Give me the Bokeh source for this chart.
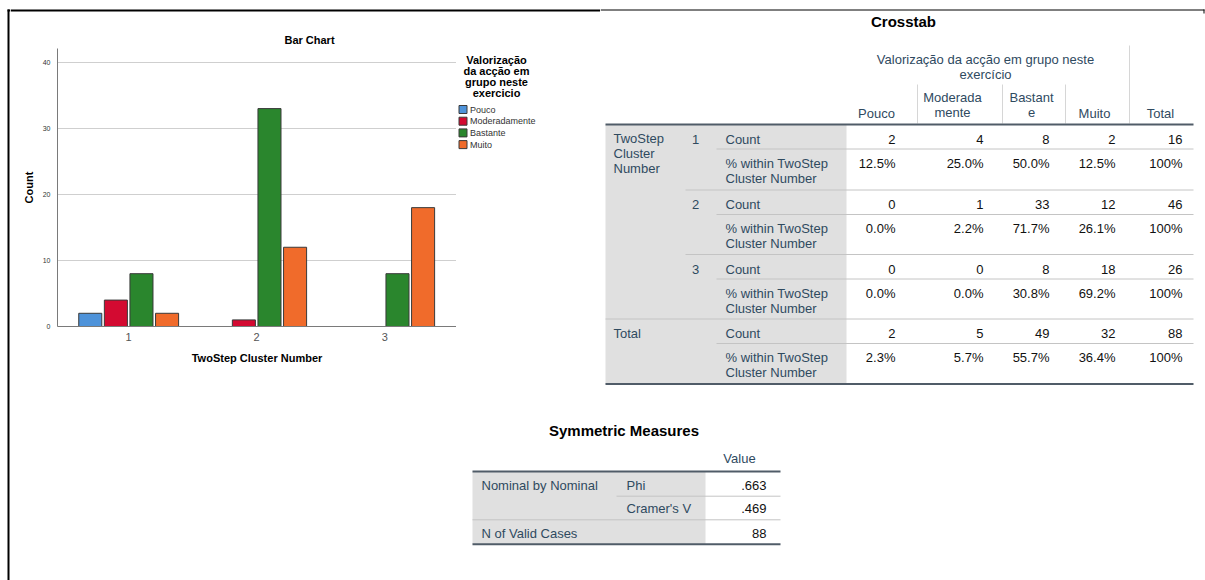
from bokeh.plotting import figure
from bokeh.layouts import row, column
from bokeh.models import ColumnDataSource, Range1d, FixedTicker
from bokeh.transform import dodge
from bokeh.core.properties import value
from bokeh.embed import file_html
from bokeh.resources import INLINE

# ---------------- data ----------------
clusters = [1, 2, 3]
categories = ["Pouco", "Moderadamente", "Bastante", "Muito"]
pouco = [2, 0, 0]
moderadamente = [4, 1, 0]
bastante = [8, 33, 8]
muito = [2, 12, 18]
y_ticks = [0, 10, 20, 30, 40]
legend_title = ["Valorização", "da acção em", "grupo neste", "exercicio"]

row_totals = [16, 46, 26]
col_totals = [2, 5, 49, 32]
grand_total = 88
pct_within = [[12.5, 25.0, 50.0, 12.5],
              [0.0, 2.2, 71.7, 26.1],
              [0.0, 0.0, 30.8, 69.2]]
pct_total = [2.3, 5.7, 55.7, 36.4]
col_headers = [["Pouco"], ["Moderada", "mente"], ["Bastant", "e"], ["Muito"], ["Total"]]

sym_labels = ["Phi", "Cramer's V"]
sym_values = [".663", ".469"]
n_valid = 88

FONT = "Liberation Sans"
SLATE = "#2F4A5F"
VAL = "#111111"
GRAY = "#E0E0E0"
THIN = "#C4C4C4"
THICK = "#505C68"
bar_colors = ["#4E93DA", "#D30A31", "#2A862D", "#F06B2B"]


# ---------------- helpers ----------------
def canvas(w, h, x0, y0, bottom_border=0):
    p = figure(width=w, height=h, x_range=Range1d(x0, x0 + w),
               y_range=Range1d(y0 + h - bottom_border, y0),
               min_border=0, min_border_bottom=bottom_border,
               toolbar_location=None, output_backend="svg",
               x_axis_location=None, y_axis_location=None, outline_line_color=None)
    p.grid.visible = False
    return p


def txt(p, xs, ys, texts, align="left", size="13px", color=SLATE, bold=False):
    src = ColumnDataSource(dict(x=xs, y=ys, t=texts))
    p.text(x="x", y="y", text="t", source=src, text_align=align, text_baseline="middle",
           text_font=value(FONT), text_font_size=value(size), text_color=color,
           text_font_style="bold" if bold else "normal")


def hline(p, y, x0, x1, color, w):
    p.segment(x0=[x0], y0=[y], x1=[x1], y1=[y], line_color=color, line_width=w)


# ---------------- frame borders ----------------
left_strip = canvas(10, 580, 0, 0)
left_strip.quad(left=[7], right=[9], top=[9], bottom=[580], fill_color="black", line_color=None)
left_strip.quad(left=[7], right=[10], top=[9], bottom=[11], fill_color="black", line_color=None)

top_area = canvas(590, 48, 10, 0)
top_area.quad(left=[10], right=[600], top=[9], bottom=[11], fill_color="black", line_color=None)
txt(top_area, [309], [39], ["Bar Chart"], align="center", size="11px", color="black", bold=True)

# ---------------- bar chart ----------------
bar = figure(width=446, height=340, x_range=Range1d(0.444, 3.561), y_range=Range1d(0, 42.1),
             min_border_left=47, min_border_right=0, min_border_top=0, min_border_bottom=62,
             toolbar_location=None, output_backend="svg", title=None, outline_line_color=None)

series = [pouco, moderadamente, bastante, muito]
offsets = [-0.3, -0.1, 0.1, 0.3]
for cat, vals, off, col in zip(categories, series, offsets, bar_colors):
    src = ColumnDataSource(dict(cluster=clusters, count=vals,
                                la=[1.0 if v > 0 else 0.0 for v in vals]))
    bar.vbar(x=dodge("cluster", off), top="count", bottom=0, width=0.18, source=src,
             fill_color=col, line_color="#3A3A3A", line_width=1, line_alpha="la")

bar.xaxis.ticker = FixedTicker(ticks=clusters)
bar.yaxis.ticker = FixedTicker(ticks=y_ticks)
bar.xgrid.visible = False
bar.ygrid.grid_line_color = "#CFCFCF"
for ax in (bar.xaxis[0], bar.yaxis[0]):
    ax.axis_line_color = "#7A7A7A"
    ax.major_tick_line_color = None
    ax.minor_tick_line_color = None
    ax.axis_label_text_font = FONT
    ax.axis_label_text_font_style = "bold"
    ax.axis_label_text_font_size = "11px"
    ax.axis_label_text_color = "black"
    ax.major_label_text_font = FONT
bar.xaxis.axis_label = "TwoStep Cluster Number"
bar.yaxis.axis_label = "Count"
bar.xaxis.major_label_text_font_size = "11px"
bar.xaxis.major_label_text_color = "#555555"
bar.xaxis.major_label_standoff = 0
bar.xaxis.axis_label_standoff = 8
bar.yaxis.major_label_text_font_size = "7px"
bar.yaxis.major_label_text_color = "#333333"
bar.yaxis.major_label_standoff = 1
bar.yaxis.axis_label_standoff = 5

# ---------------- legend (beside the chart; frame aligned with the chart frame) ----------------
lg = canvas(144, 340, 456, 48, bottom_border=62)
txt(lg, [496] * 4, [59, 70, 81, 92], legend_title, align="center", size="11px",
    color="black", bold=True)
idx = list(range(len(categories)))
sw_top = [105 + 11.7 * i for i in idx]
lsrc = ColumnDataSource(dict(top=sw_top, bottom=[t + 8 for t in sw_top],
                             mid=[t + 4 for t in sw_top], color=bar_colors, label=categories))
lg.quad(left=458.5, right=466.5, top="top", bottom="bottom", fill_color="color",
        line_color="#3A3A3A", line_width=1, source=lsrc)
lg.text(x=469.5, y="mid", text="label", source=lsrc, text_align="left", text_baseline="middle",
        text_font=value(FONT), text_font_size=value("9px"), text_color="#333333")

# ---------------- crosstab ----------------
ct = canvas(605, 388, 600, 0)
hline(ct, 9.5, 600, 1204, "black", 1)
ct.segment(x0=[1203.5], y0=[9], x1=[1203.5], y1=[13], line_color="black", line_width=1)
TL, TR, GR = 605, 1193, 846
val_right = [895, 983, 1049, 1115, 1182]
head_center = [876, 952, 1031, 1094, 1160]
gs = [124, 189.5, 254, 318.5]
bottom = 383.5

ct.quad(left=[TL], right=[GR], top=[gs[0]], bottom=[bottom], fill_color=GRAY, line_color=None)
txt(ct, [903], [21], ["Crosstab"], align="center", size="15px", color="black", bold=True)
txt(ct, [985, 985], [59, 74], ["Valorização da acção em grupo neste", "exercício"], align="center")
for c, lines in zip(head_center, col_headers):
    if len(lines) == 1:
        txt(ct, [c], [113], lines, align="center")
    else:
        txt(ct, [c, c], [96.5, 111.5], lines, align="center")
ct.segment(x0=[917, 1002, 1065], y0=[84] * 3, x1=[917, 1002, 1065], y1=[123] * 3,
           line_color="#D6D6D6", line_width=1)
ct.segment(x0=[1129], y0=[45], x1=[1129], y1=[123], line_color="#D6D6D6", line_width=1)

txt(ct, [613, 613, 613], [138, 153, 168], ["TwoStep", "Cluster", "Number"])
txt(ct, [613], [gs[3] + 14.5], ["Total"])
for i, c in enumerate(clusters):
    txt(ct, [695], [gs[i] + 14.5], [str(c)], align="center")
for g in gs:
    txt(ct, [725, 725, 725], [g + 14.5, g + 38.5, g + 53.5],
        ["Count", "% within TwoStep", "Cluster Number"])
    hline(ct, g + 24.5, 716, TR, THIN, 1)
hline(ct, gs[1], 685, TR, THIN, 1)
hline(ct, gs[2], 685, TR, THIN, 1)
hline(ct, gs[3], TL, TR, THIN, 1)
hline(ct, gs[0], TL, TR, THICK, 2)
hline(ct, bottom, TL, TR, THICK, 2)

count_rows = [[pouco[i], moderadamente[i], bastante[i], muito[i], row_totals[i]] for i in range(3)]
count_rows.append(col_totals + [grand_total])
pct_rows = [[f"{v:.1f}%" for v in r] + ["100%"] for r in pct_within]
pct_rows.append([f"{v:.1f}%" for v in pct_total] + ["100%"])
for g, cr, pr in zip(gs, count_rows, pct_rows):
    txt(ct, val_right, [g + 14.5] * 5, [str(v) for v in cr], align="right", color=VAL)
    txt(ct, val_right, [g + 38.5] * 5, pr, align="right", color=VAL)

# ---------------- symmetric measures ----------------
sm = canvas(1195, 192, 10, 388)
SL, SR, SG = 472, 780, 705
sm.quad(left=[SL], right=[SG], top=[471], bottom=[543.7], fill_color=GRAY, line_color=None)
txt(sm, [623.5], [430], ["Symmetric Measures"], align="center", size="15px", color="black", bold=True)
txt(sm, [739], [458.3], ["Value"], align="center")
txt(sm, [481, 626, 626, 481], [485, 485, 508.3, 532.7],
    ["Nominal by Nominal", sym_labels[0], sym_labels[1], "N of Valid Cases"])
txt(sm, [766, 766, 766], [485, 508.3, 532.7], sym_values + [str(n_valid)], align="right", color=VAL)
hline(sm, 495.7, 616, SR, THIN, 1)
hline(sm, 519.3, SL, SR, THIN, 1)
hline(sm, 471, SL, SR, THICK, 2)
hline(sm, 543.7, SL, SR, THICK, 2)

layout = row(left_strip, column(row(column(top_area, row(bar, lg)), ct), sm))
open("out.html", "w").write(file_html(layout, INLINE))
